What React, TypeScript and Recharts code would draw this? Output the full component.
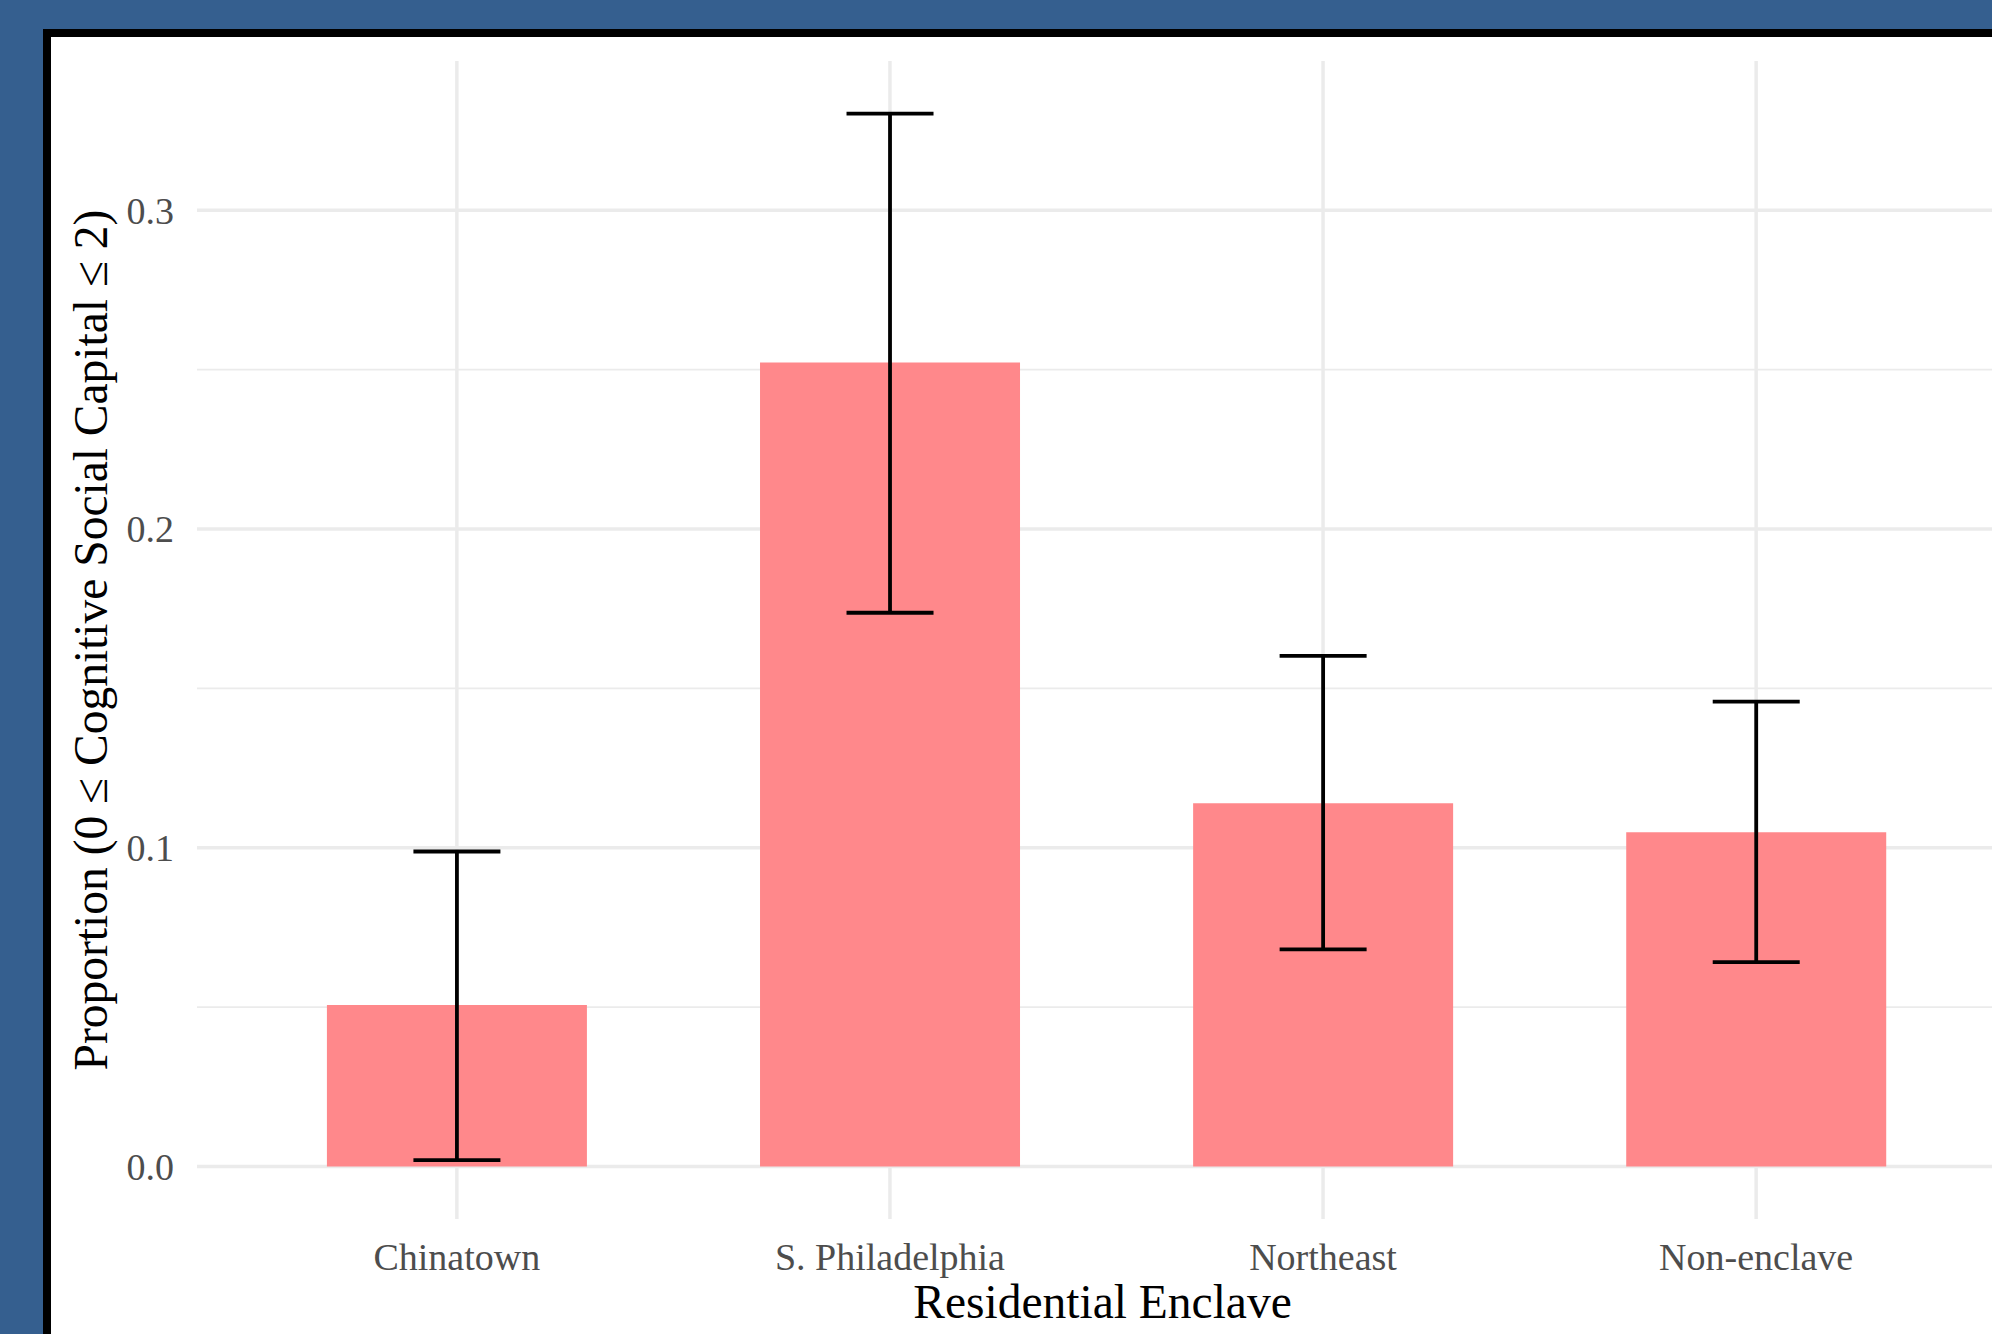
import { Bar, BarChart, CartesianGrid, ErrorBar, Label, XAxis, YAxis } from "recharts";

const CATEGORIES = ["Chinatown", "S. Philadelphia", "Northeast", "Non-enclave"];
const PROPORTIONS = [0.0506, 0.2522, 0.1139, 0.1048];
const LOWER = [0.002, 0.1737, 0.0681, 0.0641];
const UPPER = [0.0988, 0.3303, 0.1602, 0.1458];

const MAJOR_TICKS = [0, 0.1, 0.2, 0.3];
const MINOR_TICKS = [0.05, 0.15, 0.25];
const Y_DOMAIN: [number, number] = [-0.0165, 0.3468];

const data = CATEGORIES.map((name, i) => ({
  name,
  proportion: PROPORTIONS[i],
  err: [PROPORTIONS[i] - LOWER[i], UPPER[i] - PROPORTIONS[i]],
}));

const FONT = '"Liberation Serif", "Times New Roman", serif';
const GRID = "#ebebeb";

function YTitle({ viewBox }: any) {
  const x = viewBox.x + 107;
  const y = viewBox.y + viewBox.height / 2;
  return (
    <text
      x={x}
      y={y}
      transform={`rotate(-90 ${x} ${y})`}
      textAnchor="middle"
      fontFamily={FONT}
      fontSize={47.5}
      fill="#000"
    >
      Proportion (0 ≤ Cognitive Social Capital ≤ 2)
    </text>
  );
}

function XTitle({ viewBox }: any) {
  return (
    <text
      x={viewBox.x + viewBox.width / 2 - 4}
      y={viewBox.y + 99}
      textAnchor="middle"
      fontFamily={FONT}
      fontSize={47.5}
      fill="#000"
    >
      Residential Enclave
    </text>
  );
}

export default function App() {
  return (
    <div
      style={{
        position: "fixed",
        left: 0,
        top: 0,
        width: 1992,
        height: 1334,
        overflow: "hidden",
        background: "#355f8f",
      }}
    >
      <div
        style={{
          position: "absolute",
          left: 43,
          top: 29,
          width: 2000,
          height: 1400,
          background: "#fff",
          borderLeft: "8px solid #000",
          borderTop: "8px solid #000",
        }}
      />
      <div style={{ position: "absolute", left: 0, top: 0 }}>
        <BarChart
          width={2030}
          height={1334}
          data={data}
          margin={{ top: 61, right: 14, bottom: 0, left: 0 }}
          barCategoryGap="20%"
        >
          <CartesianGrid yAxisId="minor" vertical={false} syncWithTicks stroke={GRID} strokeWidth={1.8} />
          <CartesianGrid syncWithTicks stroke={GRID} strokeWidth={3.5} />
          <XAxis
            dataKey="name"
            height={115}
            padding={{ left: 43.3, right: 43.3 }}
            axisLine={false}
            tickLine={false}
            tickSize={0}
            tickMargin={24}
            tick={{ fill: "#4d4d4d", fontSize: 38, fontFamily: FONT }}
            interval={0}
          >
            <Label content={<XTitle />} />
          </XAxis>
          <YAxis
            width={197}
            domain={Y_DOMAIN}
            allowDataOverflow
            ticks={MAJOR_TICKS}
            tickFormatter={(v: number) => v.toFixed(1)}
            axisLine={false}
            tickLine={false}
            tickSize={0}
            tickMargin={23}
            tick={{ fill: "#4d4d4d", fontSize: 38, fontFamily: FONT }}
          >
            <Label content={<YTitle />} />
          </YAxis>
          <YAxis yAxisId="minor" hide domain={Y_DOMAIN} allowDataOverflow ticks={MINOR_TICKS} />
          <Bar dataKey="proportion" fill="#ff888b" isAnimationActive={false}>
            <ErrorBar dataKey="err" width={43.5} strokeWidth={3.8} stroke="#000" isAnimationActive={false} />
          </Bar>
        </BarChart>
      </div>
    </div>
  );
}
